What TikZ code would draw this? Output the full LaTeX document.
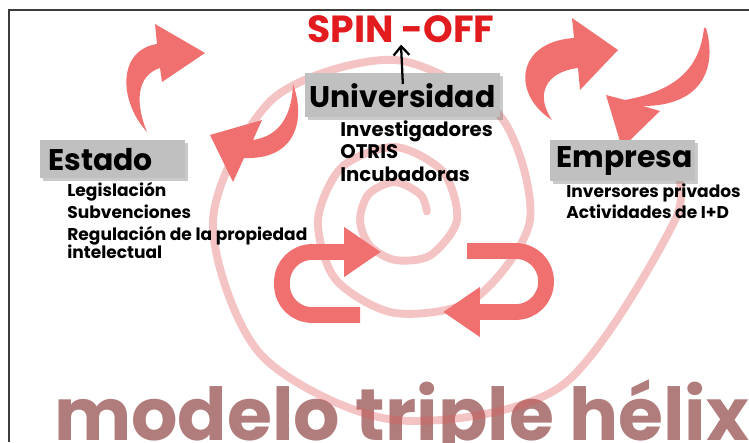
\documentclass[tikz,border=0pt]{standalone}
\usepackage{fontspec}
\setmainfont{Poppins}
\usetikzlibrary{arrows.meta,shadows}

\definecolor{salmon}{RGB}{240,112,112}
\definecolor{spinred}{RGB}{226,28,30}
\definecolor{boxgray}{RGB}{192,192,192}
\definecolor{helixrose}{RGB}{176,124,124}
\definecolor{spiralred}{RGB}{224,92,92}
\definecolor{framegray}{RGB}{60,60,60}

\begin{document}
\begin{tikzpicture}[x=0.02cm, y=-0.02cm,
  hbox/.style={fill=boxgray, anchor=north west, align=left,
    font=\bfseries\fontsize{17}{20}\selectfont,
    drop shadow={shadow xshift=1.5pt, shadow yshift=-1.5pt, fill=black!60, opacity=0.35}},
  items/.style={anchor=north west, align=left, inner sep=0pt},
  swoosh/.style={fill=salmon},
  loop/.style={draw=salmon, line width=9pt, rounded corners=0.6cm,
    -{Triangle[length=21pt, width=27pt]}},
  spiral/.style={draw=spiralred, opacity=0.36, line width=4.5pt, line cap=round}]
  \useasboundingbox (0,0) rectangle (749,442);

  \node[anchor=base west, text=helixrose, font=\bfseries\fontsize{41.5}{42}\selectfont]
    (title) at (48,440) {modelo triple hélix};

  \draw[spiral, shift={(395,220)}] plot[smooth] coordinates {
    (-15:33) (-45:36) (-90:38) (-135:37) (-180:35) (-225:36) (-270:40) (-315:50)
    (-360:62) (-405:68) (-450:73) (-495:75) (-540:77) (-585:84) (-630:93) (-675:112)
    (-720:135) (-765:148) (-810:160) (-855:172) (-900:182) (-945:190) (-990:200)
    (-1035:235) (-1080:280) (-1092:283)};

  \fill[swoosh] (147,132) .. controls (118,100) and (118,50) .. (157,44)
    -- (155,24) -- (205,53) -- (162,82) -- (160,68)
    .. controls (138,75) and (134,100) .. (147,132) -- cycle;
  \fill[swoosh] (293,84) .. controls (306,120) and (296,160) .. (244,158)
    -- (233,182) -- (210,135) -- (262,120) -- (253,140)
    .. controls (280,136) and (292,115) .. (293,84) -- cycle;
  \fill[swoosh] (552,120) .. controls (512,95) and (515,42) .. (574,38)
    -- (572,18) -- (618,50) -- (580,90) -- (578,68)
    .. controls (545,72) and (535,95) .. (552,120) -- cycle;
  \fill[swoosh] (706,28) .. controls (718,70) and (700,106) .. (643,106)
    -- (660,111) -- (622,148) -- (606,95) -- (625,100)
    .. controls (680,90) and (700,65) .. (704,28) -- cycle;

  \coordinate (L1) at (360,315);
  \coordinate (L2) at (282,315);
  \coordinate (L3) at (282,252);
  \coordinate (L4) at (381,252);
  \coordinate (R1) at (467,251);
  \coordinate (R2) at (546,251);
  \coordinate (R3) at (546,312);
  \coordinate (R4) at (443,312);
  \draw[loop] (L1) -- (L2) -- (L3) -- (L4);
  \draw[loop] (R1) -- (R2) -- (R3) -- (R4);

  \node[hbox, minimum width=3.9cm, minimum height=0.88cm, inner xsep=0.08cm, text width=3.74cm]
    (uni) at (305,73) {Universidad};
  \node[hbox, minimum width=2.9cm, minimum height=0.76cm, inner xsep=0.16cm, text width=2.58cm]
    (estado) at (40,140) {Estado};
  \node[hbox, minimum width=2.9cm, minimum height=0.76cm, inner xsep=0.12cm, text width=2.66cm]
    (empresa) at (550,140) {Empresa};

  \node[items, font=\bfseries\fontsize{11.2}{13}\selectfont] (uniitems) at (340,120)
    {Investigadores\\OTRIS\\Incubadoras};
  \node[items, font=\bfseries\fontsize{9.7}{12.5}\selectfont] (estadoitems) at (67,182)
    {Legislación\\Subvenciones\\Regulación de la propiedad\\[-2.2pt]intelectual};
  \node[items, font=\bfseries\fontsize{9.7}{12.5}\selectfont] (empresaitems) at (566,183)
    {Inversores privados\\Actividades de I+D};

  \node[text=spinred, font=\bfseries\fontsize{21.5}{24}\selectfont, inner sep=1pt]
    (spin) at (401,29) {SPIN -OFF};
  \draw[line width=1.3pt, -{Straight Barb[length=5pt, width=9pt]}]
    ([yshift=-0.22cm]uni.north) -- (spin.south);

  \draw[framegray, line width=1.2pt] (9,442) -- (9,10) -- (749,10);
\end{tikzpicture}
\end{document}
